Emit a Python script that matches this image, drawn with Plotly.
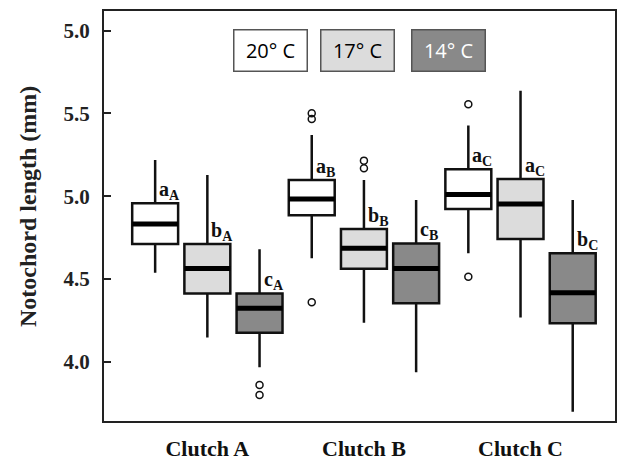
import plotly.graph_objects as go

# ---------------- data ----------------
clutches = ["Clutch A", "Clutch B", "Clutch C"]
temps = ["20° C", "17° C", "14° C"]

# per temperature, values for Clutch A, B, C
q1_20 = [4.711, 4.885, 4.923]
med_20 = [4.832, 4.983, 5.011]
q3_20 = [4.957, 5.098, 5.163]
lo_20 = [4.538, 4.625, 4.655]
hi_20 = [5.219, 5.370, 5.428]

q1_17 = [4.413, 4.562, 4.741]
med_17 = [4.564, 4.685, 4.953]
q3_17 = [4.711, 4.802, 5.104]
lo_17 = [4.147, 4.236, 4.268]
hi_17 = [5.128, 5.098, 5.637]

q1_14 = [4.175, 4.353, 4.232]
med_14 = [4.323, 4.564, 4.417]
q3_14 = [4.413, 4.715, 4.655]
lo_14 = [3.966, 3.936, 3.698]
hi_14 = [4.679, 4.977, 4.977]

# outliers: clutch label and value
out_20_clutch = ["Clutch B", "Clutch B", "Clutch B", "Clutch C", "Clutch C"]
out_20_val = [5.501, 5.466, 4.359, 5.555, 4.514]
out_17_clutch = ["Clutch B", "Clutch B"]
out_17_val = [5.215, 5.169]
out_14_clutch = ["Clutch A", "Clutch A"]
out_14_val = [3.859, 3.799]

# significance letters (subscript = clutch letter)
sig_20 = ["a", "a", "a"]
sig_17 = ["b", "b", "a"]
sig_14 = ["c", "c", "b"]
sub_letters = ["A", "B", "C"]

# y tick labels as printed
ytick_vals = [4.0, 4.5, 5.0, 5.5, 6.0]
ytick_text = ["4.0", "4.5", "5.0", "5.5", "5.0"]

# ---------------- styling ----------------
fills = ["#ffffff", "#dcdcdc", "#898989"]
serif = "Liberation Serif"
BW = 0.88

groups = [
    (q1_20, med_20, q3_20, lo_20, hi_20, out_20_clutch, out_20_val, sig_20),
    (q1_17, med_17, q3_17, lo_17, hi_17, out_17_clutch, out_17_val, sig_17),
    (q1_14, med_14, q3_14, lo_14, hi_14, out_14_clutch, out_14_val, sig_14),
]

def pos(ci, ti):
    return 1 + 3 * ci + ti

fig = go.Figure()
annotations = []

for ti, (q1, med, q3, lo, hi, oc, ov, sig) in enumerate(groups):
    xs = [pos(ci, ti) for ci in range(len(clutches))]
    fig.add_trace(go.Box(
        x=xs, q1=q1, median=med, q3=q3, lowerfence=lo, upperfence=hi,
        width=BW, whiskerwidth=0, fillcolor=fills[ti],
        line=dict(color="#111111", width=2.5), boxpoints=False,
        name=temps[ti], showlegend=False, hoverinfo="skip",
    ))
    mx, my = [], []
    for x, m in zip(xs, med):
        mx += [x - BW / 2, x + BW / 2, None]
        my += [m, m, None]
    fig.add_trace(go.Scatter(x=mx, y=my, mode="lines",
                             line=dict(color="#000000", width=5),
                             showlegend=False, hoverinfo="skip"))
    ox = [pos(clutches.index(c), ti) for c in oc]
    fig.add_trace(go.Scatter(x=ox, y=ov, mode="markers",
                             marker=dict(symbol="circle-open", size=7,
                                         line=dict(color="#111111", width=1.5),
                                         color="#111111"),
                             showlegend=False, hoverinfo="skip"))
    for ci in range(len(clutches)):
        annotations.append(dict(
            x=xs[ci] + 0.04, y=q3[ci], xref="x", yref="y",
            xanchor="left", yanchor="bottom", yshift=-2,
            text="<b>%s<sub>%s</sub></b>" % (sig[ci], sub_letters[ci]),
            showarrow=False, font=dict(family=serif, size=20, color="#111111"),
        ))

# legend boxes
leg_x = [0.3252, 0.496, 0.675]
leg_text_col = ["#000000", "#000000", "#ffffff"]
for ti in range(3):
    annotations.append(dict(
        x=leg_x[ti], y=0.904, xref="paper", yref="paper",
        xanchor="center", yanchor="middle",
        text=temps[ti], showarrow=False,
        font=dict(family="Open Sans", size=20, color=leg_text_col[ti]),
        bgcolor=fills[ti], bordercolor="#555555", borderwidth=1.5,
        borderpad=0, width=72, height=40,
    ))

annotations.append(dict(
    x=-0.1487, y=0.522, xref="paper", yref="paper",
    xanchor="center", yanchor="middle", textangle=-90,
    text="<b>Notochord length (mm)</b>", showarrow=False,
    font=dict(family=serif, size=24, color="#222222"),
))

fig.update_layout(
    width=620, height=460,
    margin=dict(l=104, r=5, t=11, b=39),
    paper_bgcolor="white", plot_bgcolor="white",
    boxmode="overlay", showlegend=False,
    annotations=annotations,
    xaxis=dict(range=[0.02, 9.81], showgrid=False, zeroline=False,
               showline=True, mirror=True, linecolor="#222222", linewidth=2,
               tickvals=[pos(ci, 1) for ci in range(3)], ticktext=clutches,
               ticks="", ticklabelstandoff=7, automargin=False,
               tickfont=dict(family=serif, size=22, color="#111111", weight="bold")),
    yaxis=dict(range=[3.642, 6.119], showgrid=False, zeroline=False,
               showline=True, mirror=True, linecolor="#222222", linewidth=2,
               tickvals=ytick_vals, ticktext=ytick_text, automargin=False,
               ticks="inside", ticklen=7, tickwidth=2, tickcolor="#222222",
               ticklabelstandoff=8,
               tickfont=dict(family=serif, size=21, color="#222222", weight="bold")),
)

fig.write_html("out.html", config={"displayModeBar": False},
               post_script="document.body.style.margin='0';")
